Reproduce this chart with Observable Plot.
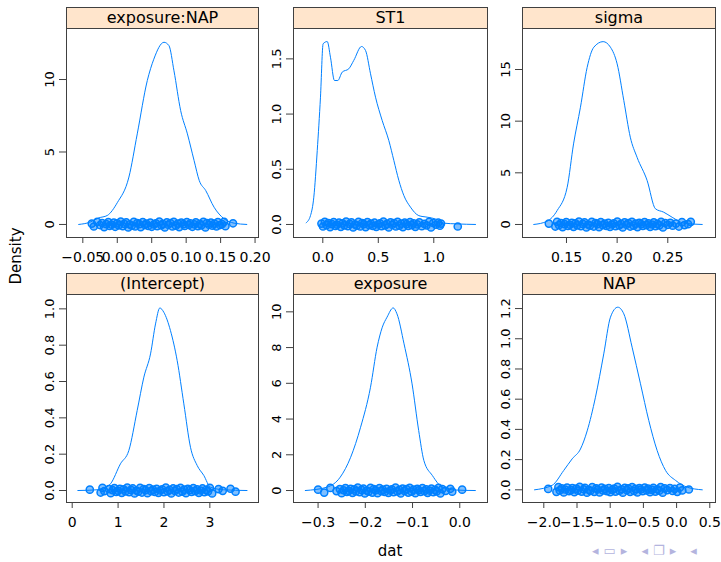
<!DOCTYPE html>
<html><head><meta charset="utf-8">
<script src="https://cdn.jsdelivr.net/npm/d3@7"></script>
<script src="https://cdn.jsdelivr.net/npm/@observablehq/plot@0.6"></script>
<style>
body{margin:0;background:#fff;font-family:"DejaVu Sans",sans-serif;}
#chart{position:relative;width:721px;height:562px;overflow:hidden;background:#fff;}
.strip{position:absolute;box-sizing:border-box;background:#ffe5cc;border:1px solid #404040;height:22px;font-size:16px;line-height:20px;text-align:center;color:#000;white-space:nowrap;}
.lab{position:absolute;font-size:15px;color:#000;white-space:nowrap;transform:translate(-50%,-50%);}
.nav{position:absolute;font-size:13px;color:#b4b4de;white-space:nowrap;letter-spacing:5px;}
</style></head><body><div id="chart"></div>
<script>
// ---- data ----
const panelNames = ["exposure:NAP", "ST1", "sigma", "(Intercept)", "exposure", "NAP"];

// density curves (x, density)
const curveX_expNAP = [-0.056,-0.04,-0.027,-0.0145,0.0,0.0169,0.029,0.0436,0.053,0.0678,0.075,0.0823,0.092,0.1018,0.1115,0.119,0.1284,0.1405,0.155,0.1696,0.188];
const curveY_expNAP = [0,0.15,0.45,0.62,1.5,3.27,6.25,9.93,11.4,12.57,12.34,10.6,7.86,6.25,4.41,3.03,2.34,1.19,0.39,0.09,0];
const curveX_ST1 = [-0.15,-0.111,-0.081,-0.05,-0.021,0.003,0.04,0.069,0.105,0.135,0.175,0.234,0.279,0.349,0.385,0.43,0.475,0.535,0.595,0.64,0.685,0.73,0.79,0.865,0.94,1.015,1.09,1.21,1.376];
const curveY_ST1 = [0.015,0.08,0.247,0.67,1.153,1.637,1.657,1.515,1.304,1.304,1.38,1.41,1.486,1.612,1.576,1.365,1.153,0.942,0.76,0.58,0.40,0.263,0.157,0.08,0.066,0.05,0.012,0.005,0];
const curveX_sigma = [0.1177,0.131,0.1408,0.1507,0.157,0.1638,0.1704,0.177,0.1862,0.1934,0.20,0.2066,0.213,0.2197,0.2296,0.2378,0.246,0.2543,0.2658,0.284];
const curveY_sigma = [0,0.32,1.35,3.6,7.8,11.35,15.2,17.16,17.7,17.16,15.55,12.0,8.45,6.5,4.26,1.52,1.19,0.7,0.13,0];
const curveX_int = [0.123,0.617,0.835,1.052,1.234,1.416,1.562,1.707,1.816,1.91,1.997,2.142,2.288,2.433,2.578,2.723,2.868,3.013,3.3,3.81];
const curveY_int = [0,0.005,0.037,0.147,0.22,0.44,0.624,0.752,0.917,1.005,0.981,0.88,0.715,0.477,0.238,0.138,0.083,0.018,0.004,0];
const curveX_exp = [-0.327,-0.281,-0.253,-0.231,-0.21,-0.189,-0.175,-0.164,-0.154,-0.141,-0.133,-0.118,-0.101,-0.087,-0.076,-0.058,-0.037,-0.01,0.033];
const curveY_exp = [0,0.19,0.75,1.86,3.54,5.78,8.02,9.14,9.7,10.22,9.89,8.21,5.97,3.36,1.68,0.84,0.19,0.03,0];
const curveX_NAP = [-2.14,-1.874,-1.7,-1.573,-1.448,-1.347,-1.222,-1.097,-0.996,-0.886,-0.795,-0.67,-0.544,-0.419,-0.293,-0.166,-0.015,0.161,0.387];
const curveY_NAP = [0,0.03,0.128,0.205,0.27,0.39,0.613,0.9,1.143,1.209,1.165,0.944,0.702,0.459,0.26,0.128,0.062,0.017,0];

// sampled draws shown as jittered points at density 0
const pts_expNAP = [-0.037,-0.034,-0.029,-0.025,-0.022,-0.019,-0.016,-0.013,-0.011,-0.008,-0.005,-0.003,0.000,0.002,0.005,0.008,0.010,0.013,0.016,0.018,0.021,0.024,0.026,0.029,0.032,0.034,0.037,0.040,0.042,0.045,0.048,0.050,0.053,0.056,0.058,0.061,0.064,0.066,0.069,0.072,0.074,0.077,0.080,0.082,0.085,0.088,0.090,0.093,0.096,0.098,0.101,0.104,0.106,0.109,0.112,0.114,0.117,0.120,0.122,0.125,0.128,0.130,0.133,0.136,0.138,0.141,0.144,0.146,0.149,0.152,0.155,0.157,0.168];
const pts_ST1 = [-0.012,0.002,0.018,0.034,0.050,0.066,0.082,0.098,0.114,0.130,0.146,0.162,0.178,0.194,0.210,0.226,0.242,0.258,0.274,0.290,0.306,0.322,0.338,0.354,0.370,0.386,0.402,0.418,0.434,0.450,0.466,0.482,0.498,0.514,0.530,0.546,0.562,0.578,0.594,0.610,0.626,0.642,0.658,0.674,0.690,0.706,0.722,0.738,0.754,0.770,0.786,0.802,0.818,0.834,0.852,0.870,0.892,0.915,0.935,0.958,0.975,0.995,1.02,1.04,1.055,1.065,1.216];
const pts_sigma = [0.1326,0.1390,0.1407,0.1426,0.1445,0.1462,0.1481,0.1498,0.1515,0.1534,0.1553,0.1570,0.1589,0.1606,0.1623,0.1642,0.1661,0.1678,0.1697,0.1714,0.1731,0.1750,0.1769,0.1786,0.1805,0.1822,0.1839,0.1858,0.1877,0.1894,0.1913,0.1930,0.1947,0.1966,0.1985,0.2002,0.2021,0.2038,0.2055,0.2074,0.2093,0.2110,0.2129,0.2146,0.2163,0.2182,0.2201,0.2218,0.2237,0.2254,0.2271,0.2290,0.2309,0.2326,0.2345,0.2362,0.2379,0.2398,0.2417,0.2434,0.2452,0.2475,0.2500,0.2525,0.2548,0.2580,0.2610,0.2640,0.2665,0.2700,0.2727];
const pts_int = [0.384,0.62,0.66,0.70,0.80,0.84,0.88,0.92,0.96,1.00,1.04,1.08,1.12,1.16,1.20,1.24,1.28,1.32,1.36,1.40,1.44,1.48,1.52,1.56,1.60,1.64,1.68,1.72,1.76,1.80,1.84,1.88,1.92,1.96,2.00,2.04,2.08,2.12,2.16,2.20,2.24,2.28,2.32,2.36,2.40,2.44,2.48,2.52,2.56,2.60,2.64,2.68,2.72,2.76,2.80,2.84,2.88,2.92,2.96,3.00,3.05,3.19,3.28,3.45,3.56];
const pts_exp = [-0.300,-0.287,-0.274,-0.261,-0.254,-0.250,-0.246,-0.242,-0.239,-0.235,-0.231,-0.227,-0.223,-0.220,-0.216,-0.212,-0.208,-0.204,-0.201,-0.197,-0.193,-0.189,-0.185,-0.182,-0.178,-0.174,-0.170,-0.166,-0.163,-0.159,-0.155,-0.151,-0.147,-0.144,-0.140,-0.136,-0.132,-0.128,-0.125,-0.121,-0.117,-0.113,-0.109,-0.106,-0.102,-0.098,-0.094,-0.090,-0.087,-0.083,-0.079,-0.075,-0.071,-0.068,-0.064,-0.060,-0.056,-0.052,-0.049,-0.045,-0.041,-0.037,-0.030,-0.020,-0.016,0.005];
const pts_NAP = [-1.934,-1.81,-1.78,-1.76,-1.73,-1.70,-1.68,-1.65,-1.62,-1.59,-1.57,-1.54,-1.51,-1.49,-1.46,-1.43,-1.40,-1.38,-1.35,-1.32,-1.30,-1.27,-1.24,-1.21,-1.19,-1.16,-1.13,-1.11,-1.08,-1.05,-1.02,-1.00,-0.97,-0.94,-0.92,-0.89,-0.86,-0.83,-0.81,-0.78,-0.75,-0.73,-0.70,-0.67,-0.64,-0.62,-0.59,-0.56,-0.54,-0.51,-0.48,-0.45,-0.43,-0.40,-0.37,-0.35,-0.32,-0.29,-0.26,-0.24,-0.21,-0.18,-0.14,-0.10,-0.06,-0.03,0.01,0.05,0.085,0.185];
// vertical jitter pattern (fraction of band half-height)
const jitter = [0.3,-0.7,0.9,-0.2,0.5,-0.9,0.1,0.8,-0.5,-0.1,0.6,-0.8,0.4,-0.3,1.0,-0.6,0.2,0.7,-1.0,0.0,-0.4,0.9,-0.7,0.5,0.1,-0.9,0.8,-0.2,0.3,-0.5,0.6,-0.8,0.0,0.4,-0.6,1.0,-0.3,0.2,-1.0,0.7,-0.1,0.5,-0.7,0.9,-0.4,0.3,-0.9,0.6,0.1,-0.5,0.8,-0.2,0.4,-0.8,0.0,0.7,-0.6,0.2,-0.3,0.9,-1.0,0.5,-0.1,0.6,-0.4,0.3,-0.7,0.8,-0.2,0.1,0.9,-0.6,0.4];

// tick values
const xTicks_expNAP = [-0.05,0,0.05,0.1,0.15,0.2], yTicks_expNAP = [0,5,10];
const xTicks_ST1 = [0,0.5,1], yTicks_ST1 = [0,0.5,1,1.5];
const xTicks_sigma = [0.15,0.2,0.25], yTicks_sigma = [0,5,10,15];
const xTicks_int = [0,1,2,3], yTicks_int = [0,0.2,0.4,0.6,0.8,1.0];
const xTicks_exp = [-0.3,-0.2,-0.1,0], yTicks_exp = [0,2,4,6,8,10];
const xTicks_NAP = [-2,-1.5,-1,-0.5,0,0.5], yTicks_NAP = [0,0.2,0.4,0.6,0.8,1.0,1.2];

const xLabel = "dat", yLabel = "Density";

// ---- panels ----
const panels = [
  {cx:curveX_expNAP, cy:curveY_expNAP, pts:pts_expNAP, xd:[-0.0737,0.205], yd:[-0.9,13.52], xt:xTicks_expNAP, yt:yTicks_expNAP, xf:".2f", yf:"d"},
  {cx:curveX_ST1, cy:curveY_ST1, pts:pts_ST1, xd:[-0.264,1.484], yd:[-0.118,1.775], xt:xTicks_ST1, yt:yTicks_ST1, xf:".1f", yf:".1f"},
  {cx:curveX_sigma, cy:curveY_sigma, pts:pts_sigma, xd:[0.1066,0.2971], yd:[-1.26,18.97], xt:xTicks_sigma, yt:yTicks_sigma, xf:".2f", yf:"d"},
  {cx:curveX_int, cy:curveY_int, pts:pts_int, xd:[-0.124,4.06], yd:[-0.066,1.079], xt:xTicks_int, yt:yTicks_int, xf:"d", yf:".1f"},
  {cx:curveX_exp, cy:curveY_exp, pts:pts_exp, xd:[-0.352,0.0587], yd:[-0.67,10.97], xt:xTicks_exp, yt:yTicks_exp, xf:".1f", yf:"d"},
  {cx:curveX_NAP, cy:curveY_NAP, pts:pts_NAP, xd:[-2.321,0.586], yd:[-0.084,1.293], xt:xTicks_NAP, yt:yTicks_NAP, xf:".1f", yf:".1f"}
];

const colLeft = [66, 293, 522], colWidth = [192, 194, 193];
const rowTop = [28, 294], rowHeight = [209, 208];
const stripH = 21;
const chart = document.getElementById("chart");
const blue = "#0080ff", boxCol = "#404040";

panels.forEach((p, i) => {
  const col = i % 3, row = Math.floor(i / 3);
  const fl = colLeft[col], fw = colWidth[col], ft = rowTop[row], fh = rowHeight[row];
  const ml = 50, mr = 1, mt = 1, mb = 34;
  const amp = 0.014 * (p.yd[1] - p.yd[0]);
  const pts = p.pts.map((x, k) => ({x, y: jitter[k % jitter.length] * amp}));
  const curve = p.cx.map((x, k) => ({x, y: p.cy[k]}));
  const svg = Plot.plot({
    width: ml + fw + mr, height: mt + fh + mb,
    marginLeft: ml, marginRight: mr, marginTop: mt, marginBottom: mb,
    style: {background: "transparent", overflow: "visible", fontFamily: "DejaVu Sans, sans-serif", fontSize: "13px", color: "#000"},
    x: {domain: p.xd, label: null},
    y: {domain: p.yd, label: null},
    marks: [
      Plot.line(curve, {x: "x", y: "y", stroke: blue, strokeWidth: 1, curve: "monotone-x"}),
      Plot.dot(pts, {x: "x", y: "y", r: 3.6, stroke: blue, fill: blue, fillOpacity: 0.5, strokeWidth: 1.5}),
      Plot.frame({stroke: boxCol}),
      Plot.axisX({ticks: p.xt, tickFormat: d3.format(p.xf), tickSize: 6, tickPadding: 9, stroke: boxCol, fill: "#000", fontSize: 14, label: null}),
      Plot.axisY({ticks: p.yt, tickFormat: d3.format(p.yf), tickSize: 7, tickPadding: 6, tickRotate: -90, stroke: boxCol, fill: "#000", fontSize: 13, label: null})
    ]
  });
  svg.style.position = "absolute";
  svg.style.left = (fl - ml) + "px";
  svg.style.top = (ft - mt) + "px";
  svg.style.maxWidth = "none";
  chart.appendChild(svg);

  const s = document.createElement("div");
  s.className = "strip";
  s.style.left = fl + "px";
  s.style.top = (ft - stripH) + "px";
  s.style.width = (fw + 1) + "px";
  s.textContent = panelNames[i];
  chart.appendChild(s);
});

const xl = document.createElement("div");
xl.className = "lab"; xl.style.left = "390px"; xl.style.top = "551px"; xl.textContent = xLabel;
chart.appendChild(xl);
const yl = document.createElement("div");
yl.className = "lab"; yl.style.left = "16px"; yl.style.top = "256px";
yl.style.transform = "translate(-50%,-50%) rotate(-90deg)"; yl.textContent = yLabel;
chart.appendChild(yl);
const nav = document.createElement("div");
nav.className = "nav"; nav.style.left = "592px"; nav.style.top = "543px";
nav.textContent = "◂▭▸ ◂❐▸ ◂";
chart.appendChild(nav);
</script></body></html>
